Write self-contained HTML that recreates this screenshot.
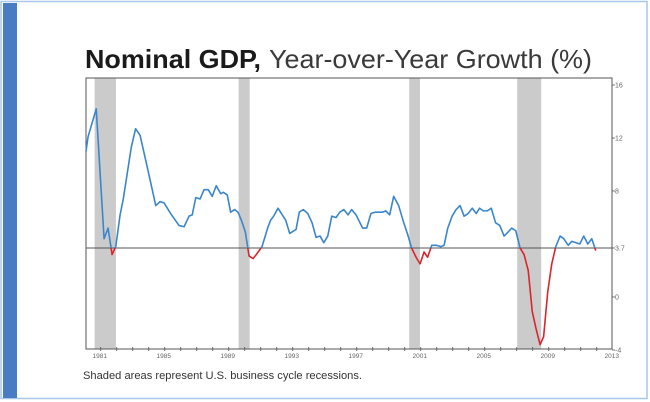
<!DOCTYPE html>
<html><head><meta charset="utf-8"><style>
html,body{margin:0;padding:0;background:#fff;}
svg{display:block;font-family:"Liberation Sans",sans-serif;}
</style></head><body>
<svg id="chart" width="650" height="402" viewBox="0 0 650 402">
<rect x="1" y="1.5" width="646" height="397" fill="#fff" stroke="#a9c7e8" stroke-width="1.5"/>
<rect x="3" y="3" width="14" height="395" fill="#4a7cc4"/>
<text x="85" y="68" font-size="26" font-weight="bold" fill="#1a1a1a" textLength="176" lengthAdjust="spacingAndGlyphs">Nominal GDP,</text>
<text x="269" y="68" font-size="26" fill="#3a3a3a" textLength="323" lengthAdjust="spacingAndGlyphs">Year-over-Year Growth (%)</text>
<g id="recessions"></g>
<g id="axes"></g>
<g id="series"></g>
<text x="83" y="379" font-size="11" fill="#333" textLength="279" lengthAdjust="spacingAndGlyphs">Shaded areas represent U.S. business cycle recessions.</text>
</svg>
<script>
const dates = [1981.0,1981.13,1981.64,1982.13,1982.38,1982.63,1982.86,1983.13,1983.33,1983.83,1984.1,1984.38,1984.83,1985.36,1985.63,1985.88,1986.29,1986.81,1987.13,1987.44,1987.64,1987.86,1988.13,1988.38,1988.64,1988.89,1989.14,1989.42,1989.58,1989.83,1990.04,1990.29,1990.5,1990.71,1990.96,1991.19,1991.44,1991.64,1992.0,1992.38,1992.54,1992.73,1993.0,1993.48,1993.73,1994.13,1994.33,1994.58,1994.86,1995.13,1995.38,1995.63,1995.86,1996.11,1996.36,1996.63,1996.86,1997.11,1997.38,1997.6,1997.88,1998.0,1998.29,1998.54,1998.81,1999.06,1999.31,1999.52,1999.73,1999.98,2000.23,2000.54,2000.86,2001.11,2001.35,2001.63,2001.88,2002.13,2002.35,2002.61,2002.92,2003.17,2003.38,2003.61,2003.88,2004.13,2004.38,2004.63,2004.88,2005.14,2005.39,2005.6,2005.83,2006.08,2006.33,2006.6,2006.86,2007.13,2007.38,2007.6,2007.86,2008.13,2008.38,2008.64,2008.89,2009.13,2009.38,2009.6,2009.86,2010.11,2010.36,2010.63,2010.86,2011.14,2011.36,2011.61,2011.86,2012.11,2012.36,2012.61,2012.86];
const values = [11.0,12.1,14.2,4.4,5.2,3.2,3.8,6.2,7.4,11.3,12.7,12.2,9.8,6.9,7.2,7.1,6.3,5.4,5.3,6.1,6.2,7.5,7.4,8.1,8.1,7.6,8.4,7.8,7.9,7.7,6.4,6.6,6.4,5.8,4.9,3.1,2.9,3.2,3.8,5.3,5.8,6.1,6.7,5.8,4.8,5.1,6.4,6.6,6.3,5.6,4.5,4.6,4.1,4.6,6.1,6.0,6.4,6.6,6.2,6.6,6.2,5.9,5.2,5.2,6.3,6.4,6.4,6.4,6.5,6.2,7.6,6.9,5.6,4.7,3.7,3.0,2.5,3.4,3.0,3.9,3.9,3.8,3.9,5.2,6.1,6.6,6.9,6.1,6.3,6.7,6.3,6.7,6.5,6.5,6.7,5.6,5.4,4.6,4.9,5.2,5.0,3.7,3.2,2.0,-1.1,-2.4,-3.6,-3.0,0.4,2.5,3.8,4.6,4.4,3.9,4.2,4.1,4.0,4.6,4.0,4.4,3.5];
const recStart = [1981.54,1990.54,2001.2,2007.95];
const recEnd = [1982.87,1991.23,2001.87,2009.45];
const yTicks = [16,12,8,3.7,0,-4];
const xLabelYears = [1981,1985,1989,1993,1997,2001,2005,2009,2013];
const threshold = 3.7;

const NS="http://www.w3.org/2000/svg";
const L=86,R=612,T=78,B=349;
const x=t=>L+(t-1981)*16;
const y=v=>297-v*13.25;
function mk(tag,attrs,parent){const e=document.createElementNS(NS,tag);for(const k in attrs)e.setAttribute(k,attrs[k]);parent.appendChild(e);return e;}
const gRec=document.getElementById('recessions'),gAx=document.getElementById('axes'),gS=document.getElementById('series');

recStart.forEach((s,i)=>{
  const r=mk('rect',{x:x(s),y:T,width:x(recEnd[i])-x(s),height:B-T,fill:'#cbcbcb'},gRec);
  
  
});

const frame=mk('rect',{x:L,y:T,width:R-L,height:B-T,fill:'none',stroke:'#555','stroke-width':1},gAx);



const ref=mk('line',{x1:L,x2:R,y1:y(threshold),y2:y(threshold),stroke:'#555','stroke-width':1},gAx);



yTicks.forEach(v=>{
  const tk=mk('line',{x1:R,x2:R+3,y1:y(v),y2:y(v),stroke:'#555','stroke-width':0.8},gAx);
  
  
  const tx=mk('text',{x:R+3,y:y(v)+2.5,'font-size':7,fill:'#666'},gAx);
  tx.textContent=String(v);
  
  
});

for(let yr=1980;yr<=2012;yr++){
  const px=x(yr+0.92);
  if(px<L||px>R+1)continue;
  const tk=mk('line',{x1:px,x2:px,y1:B-2,y2:B+2,stroke:'#555','stroke-width':0.8},gAx);
  
  
}
xLabelYears.forEach(yr=>{
  const tx=mk('text',{x:x(yr+0.86),y:B+9,'font-size':6.5,fill:'#666','text-anchor':'middle'},gAx);
  tx.textContent=String(yr);
  
  
});

let segs=[],cur=null;
for(let i=0;i<dates.length;i++){
  const below=values[i]<threshold;
  const pt=[x(dates[i]),y(values[i])];
  if(!cur){cur={below,pts:[pt]};continue;}
  if(below!==cur.below){
    const v0=values[i-1],v1=values[i];
    const f=(threshold-v0)/(v1-v0);
    const cx=x(dates[i-1]+f*(dates[i]-dates[i-1])),cy=y(threshold);
    cur.pts.push([cx,cy]);segs.push(cur);
    cur={below,pts:[[cx,cy],pt]};
  } else cur.pts.push(pt);
}
segs.push(cur);
segs.forEach(s=>{
  const p=mk('polyline',{points:s.pts.map(q=>q.join(',')).join(' '),fill:'none',stroke:s.below?'#d9262c':'#3a86cc','stroke-width':1.6,'stroke-linejoin':'round'},gS);
  
  
});
</script>
</body></html>
